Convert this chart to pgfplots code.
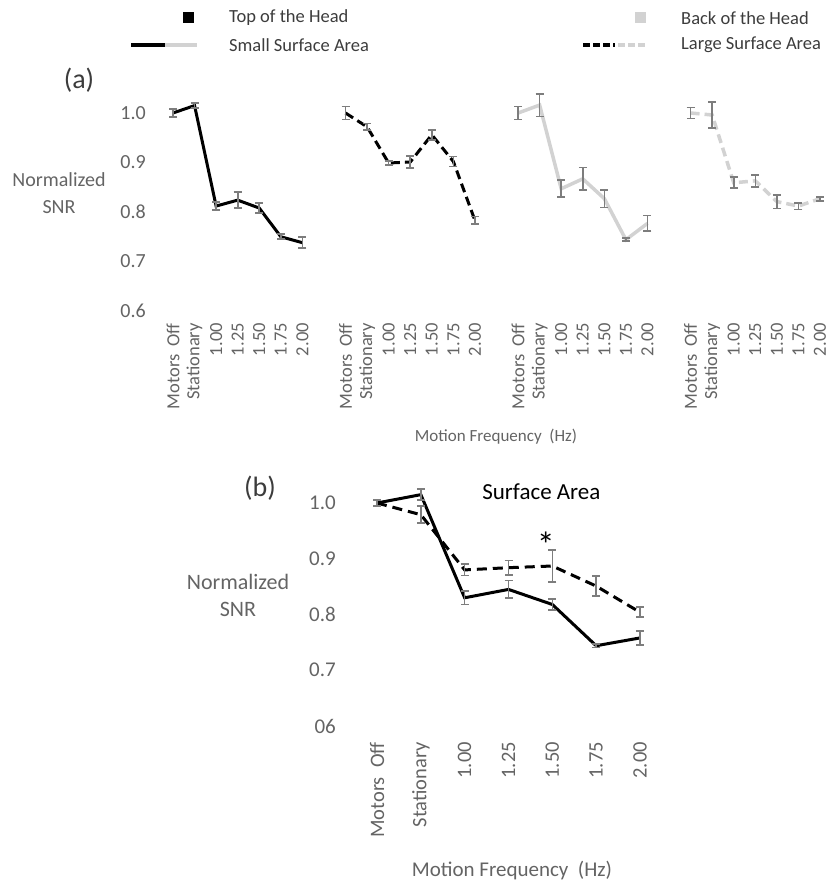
\documentclass[border=0pt]{standalone}
\usepackage{fontspec}
\setmainfont{Carlito}
\usepackage{pgfplots}
\pgfplotsset{compat=1.18}
\usepackage{pgfplotstable}
\definecolor{tg}{RGB}{100,100,100}
\definecolor{lt}{RGB}{60,60,60}
\definecolor{lg}{RGB}{210,210,210}
\definecolor{eb}{RGB}{125,125,125}

% Panel (a): top of head, small surface area
\pgfplotstableread{
x y e
0 1.000 0.008
1 1.015 0.005
2 0.812 0.008
3 0.824 0.016
4 0.808 0.010
5 0.750 0.005
6 0.738 0.011
}\TopSmall
% top of head, large surface area
\pgfplotstableread{
x y e
8 1.000 0.013
9 0.972 0.007
10 0.899 0.004
11 0.901 0.012
12 0.956 0.010
13 0.902 0.010
14 0.783 0.008
}\TopLarge
% back of head, small surface area
\pgfplotstableread{
x y e
16 1.000 0.013
17 1.016 0.023
18 0.847 0.017
19 0.867 0.023
20 0.827 0.018
21 0.744 0.003
22 0.777 0.016
}\BackSmall
% back of head, large surface area
\pgfplotstableread{
x y e
24 1.000 0.011
25 0.996 0.026
26 0.859 0.011
27 0.863 0.012
28 0.821 0.014
29 0.812 0.007
30 0.827 0.004
}\BackLarge
% Panel (b)
\pgfplotstableread{
x y e
0 1.000 0.005
1 1.015 0.010
2 0.830 0.012
3 0.845 0.016
4 0.818 0.010
5 0.744 0.003
6 0.758 0.012
}\SmallB
\pgfplotstableread{
x y e
0 1.000 0.005
1 0.979 0.015
2 0.880 0.010
3 0.884 0.013
4 0.887 0.028
5 0.851 0.018
6 0.804 0.009
}\LargeB

\pgfplotsset{
  ebars/.style={error bars/.cd, y dir=both, y explicit,
    error bar style={solid, eb, line width=1.6pt},
    error mark options={solid, eb, line width=1.8pt, rotate=90, mark size=4pt}},
}

\begin{document}
\begin{tikzpicture}[x=1pt,y=1pt]
\path[use as bounding box] (0,0) rectangle (829,-884);

% legend
\fill[black] (183,-12) rectangle (194,-23);
\fill[lg] (635,-12) rectangle (646,-23);
\draw[black, line width=4pt] (131,-45)--(165,-45);
\draw[lg, line width=4pt] (165,-45)--(197,-45);
\draw[black, line width=4pt, dash pattern=on 7pt off 3pt] (583,-45)--(615,-45);
\draw[lg, line width=4pt, dash pattern=on 7pt off 3pt] (618,-45)--(648,-45);
\begin{scope}[every node/.style={anchor=west, inner sep=0pt, text=lt, font=\fontsize{18.5}{22}\selectfont}]
\node at (229,-18) {Top of the Head};
\node at (229,-45) {Small Surface Area};
\node at (681,-18) {Back of the Head};
\node at (681,-45) {Large Surface Area};
\end{scope}

\node[text=lt, font=\fontsize{28}{32}\selectfont] at (79,-80) {(a)};
\node[text=lt, font=\fontsize{28}{32}\selectfont] at (260,-488) {(b)};

\node[text=tg, align=center, font=\fontsize{20}{27}\selectfont] at (59,-193) {Normalized\\SNR};
\node[text=tg, align=center, font=\fontsize{22}{27}\selectfont] at (238,-595) {Normalized\\SNR};

\node[text=tg, font=\fontsize{17}{20}\selectfont] at (496,-437) {Motion Frequency~ (Hz)};
\node[text=tg, font=\fontsize{21}{25}\selectfont] at (512,-870) {Motion Frequency~ (Hz)};

\begin{axis}[
  at={(173pt,-311pt)}, anchor=south west,
  scale only axis, width=647pt, height=198pt,
  xmin=0, xmax=30, ymin=0.6, ymax=1.0,
  axis line style={draw=none}, major tick length=0pt,
  clip=false,
  ytick={0.6,0.7,0.8,0.9,1.0}, yticklabels={0.6,0.7,0.8,0.9,1.0},
  yticklabel style={font=\fontsize{20}{24}\selectfont, text=tg, inner sep=0pt, anchor=east, xshift=-27pt},
  xtick={0,1,2,3,4,5,6,8,9,10,11,12,13,14,16,17,18,19,20,21,22,24,25,26,27,28,29,30},
  xticklabels={Motors~~Off,Stationary,1.00,1.25,1.50,1.75,2.00,
               Motors~~Off,Stationary,1.00,1.25,1.50,1.75,2.00,
               Motors~~Off,Stationary,1.00,1.25,1.50,1.75,2.00,
               Motors~~Off,Stationary,1.00,1.25,1.50,1.75,2.00},
  xticklabel style={font=\fontsize{18.5}{22}\selectfont, text=tg, inner sep=0pt, yshift=-12pt, rotate=90, anchor=east},
]
\addplot[black, line width=3pt, ebars] table[x=x, y=y, y error=e] {\TopSmall};
\addplot[black, line width=3pt, dash pattern=on 9pt off 5pt, ebars] table[x=x, y=y, y error=e] {\TopLarge};
\addplot[lg, line width=3.5pt, ebars] table[x=x, y=y, y error=e] {\BackSmall};
\addplot[lg, line width=3.5pt, dash pattern=on 9pt off 5pt, ebars] table[x=x, y=y, y error=e] {\BackLarge};
\end{axis}

\begin{axis}[
  at={(377pt,-726pt)}, anchor=south west,
  scale only axis, width=263pt, height=223pt,
  xmin=0, xmax=6, ymin=0.6, ymax=1.0,
  axis line style={draw=none}, major tick length=0pt,
  clip=false,
  ytick={0.6,0.7,0.8,0.9,1.0}, yticklabels={06,0.7,0.8,0.9,1.0},
  yticklabel style={font=\fontsize{21}{25}\selectfont, text=tg, inner sep=0pt, anchor=east, xshift=-41pt},
  xtick={0,1,2,3,4,5,6},
  xticklabels={Motors~~Off,Stationary,1.00,1.25,1.50,1.75,2.00},
  xticklabel style={font=\fontsize{20.5}{24}\selectfont, text=tg, inner sep=0pt, yshift=-16pt, rotate=90, anchor=east},
]
\addplot[black, line width=3pt, ebars] table[x=x, y=y, y error=e] {\SmallB};
\addplot[black, line width=3pt, dash pattern=on 10pt off 6pt, ebars] table[x=x, y=y, y error=e] {\LargeB};
\node[font=\fontsize{23}{26}\selectfont, text=black] at (axis cs:3.75,1.02) {Surface Area};
\node[font=\fontsize{36}{38}\selectfont, text=black] at (axis cs:3.85,0.925) {*};
\end{axis}
\end{tikzpicture}
\end{document}
